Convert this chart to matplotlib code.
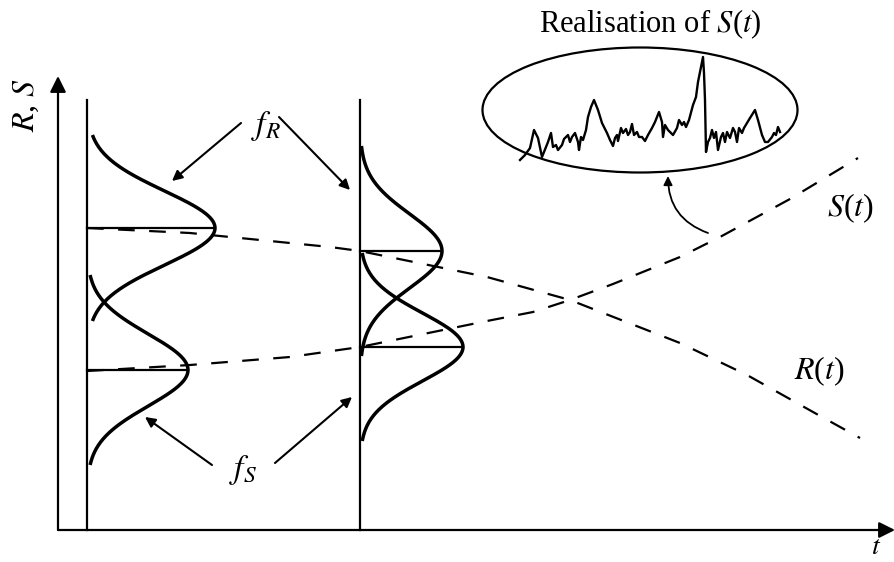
import numpy as np
import matplotlib
matplotlib.use('Agg')
from matplotlib import pyplot as plt
from matplotlib.patches import Ellipse

plt.rcParams['font.family'] = ['Liberation Serif', 'DejaVu Serif']
plt.rcParams['mathtext.fontset'] = 'stix'

# diagram space: x to the right, y downwards (same units as the figure pixels)
W, H = 895, 562

# time positions of the two density snapshots
snap_x = [87, 360]

# densities: centre, peak height, spread, half length of the drawn tail
dens_centre = [228, 370, 251, 347]
dens_base = [87, 87, 360, 360]
dens_height = [128, 101, 82, 103]
dens_spread = [37, 36, 37, 34]
dens_half = [93, 95, 105, 94]

# mean resistance R(t) and mean load S(t)
r_x = [87, 190, 330, 360, 487, 570, 680, 747, 813, 860]
r_y = [228, 233, 247, 251, 277, 300, 343, 375, 412, 438]
s_x = [87, 190, 290, 360, 487, 533, 570, 613, 680, 720, 790, 858]
s_y = [371, 365, 357, 347, 321, 312, 300, 284, 257, 237, 199, 158]

# one realisation of the load process
real_x = [520, 525, 530, 534, 538, 542, 546, 548, 551, 553, 556, 558, 562, 564,
          568, 570, 572, 575, 578, 579, 581, 583, 586, 588, 591, 594, 598, 602,
          607, 610, 613, 615, 617, 618, 621, 623, 626, 628, 630, 632, 634, 637,
          639, 642, 645, 648, 652, 655, 657, 659, 662, 663, 665, 668, 673, 677,
          679, 682, 684, 686, 689, 693, 696, 698, 701, 703, 704, 705, 706, 708,
          710, 712, 714, 716, 718, 721, 723, 725, 727, 730, 733, 735, 737, 739,
          742, 744, 747, 750, 755, 758, 762, 765, 768, 772, 774, 776, 778, 780]
real_y = [160, 155, 148, 130, 138, 157, 147, 142, 133, 147, 145, 150, 145, 139,
          135, 142, 137, 133, 142, 150, 137, 140, 130, 117, 107, 100, 110, 123,
          133, 140, 146, 138, 135, 141, 128, 133, 129, 135, 132, 124, 135, 132,
          137, 137, 141, 135, 128, 122, 117, 112, 122, 137, 125, 130, 135, 128,
          120, 125, 122, 127, 120, 105, 97, 82, 67, 57, 73, 100, 152, 142,
          138, 130, 138, 132, 150, 137, 133, 142, 132, 138, 128, 132, 142, 128,
          133, 128, 123, 118, 110, 120, 135, 142, 142, 137, 133, 135, 127, 132]

fig = plt.figure(figsize=(W / 100, H / 100), dpi=100)
ax = fig.add_axes([0, 0, 1, 1])
ax.set_xlim(0, W)
ax.set_ylim(H, 0)
ax.axis('off')

arrow = dict(arrowstyle='-|>', color='k', lw=1.6, shrinkA=0, shrinkB=0)

# axes with arrow heads
ax.annotate('', xy=(58, 76), xytext=(58, 530),
            arrowprops=dict(arrow, mutation_scale=24))
ax.annotate('', xy=(895, 530), xytext=(58, 530),
            arrowprops=dict(arrow, mutation_scale=24))
ax.text(26, 105, '$R$, $S$', rotation=90, ha='center', va='center', fontsize=23)
ax.text(876, 548, '$t$', ha='center', va='center', fontsize=20)

# vertical time sections
for x in snap_x:
    ax.plot([x, x], [100, 530], color='k', lw=1.6)

# densities lying on their side, with a line to each peak
for c, b, h, s, half in zip(dens_centre, dens_base, dens_height, dens_spread, dens_half):
    y = np.linspace(c - half, c + half, 300)
    x = b + h * np.exp(-(y - c) ** 2 / (2 * s ** 2))
    ax.plot(x, y, color='k', lw=2.5, solid_capstyle='butt')
    ax.plot([b, b + h], [c, c], color='k', lw=1.6)

# mean curves
ax.plot(r_x, r_y, color='k', lw=1.6, ls=(0, (7.5, 6.5)))
ax.plot(s_x, s_y, color='k', lw=1.6, ls=(0, (7.5, 6.5)))
ax.text(819, 371, '$R$($t$)', ha='center', va='center', fontsize=23)
ax.text(850, 208, '$S$($t$)', ha='center', va='center', fontsize=23)

# density labels and pointers
ax.text(266, 126, '$f_R$', ha='center', va='center', fontsize=24)
ax.text(243, 470, '$f_S$', ha='center', va='center', fontsize=24)
ax.annotate('', xy=(172, 181), xytext=(241, 123),
            arrowprops=dict(arrow, lw=1.5, mutation_scale=15))
ax.annotate('', xy=(350, 190), xytext=(279, 117),
            arrowprops=dict(arrow, lw=1.5, mutation_scale=15))
ax.annotate('', xy=(145, 417), xytext=(212, 465),
            arrowprops=dict(arrow, lw=1.5, mutation_scale=15))
ax.annotate('', xy=(352, 397), xytext=(275, 463),
            arrowprops=dict(arrow, lw=1.5, mutation_scale=15))

# inset with a sample path of the load
ax.add_patch(Ellipse((640, 110), 315, 125, fill=False, color='k', lw=1.6))
ax.plot(real_x, real_y, color='k', lw=1.7)
ax.text(650, 24, 'Realisation of $S$($t$)', ha='center', va='center', fontsize=22)
ax.annotate('', xy=(668, 176), xytext=(708, 233),
            arrowprops=dict(arrow, lw=1.3, mutation_scale=13,
                            connectionstyle='arc3,rad=-0.35'))

fig.savefig('out.png', dpi=100)
